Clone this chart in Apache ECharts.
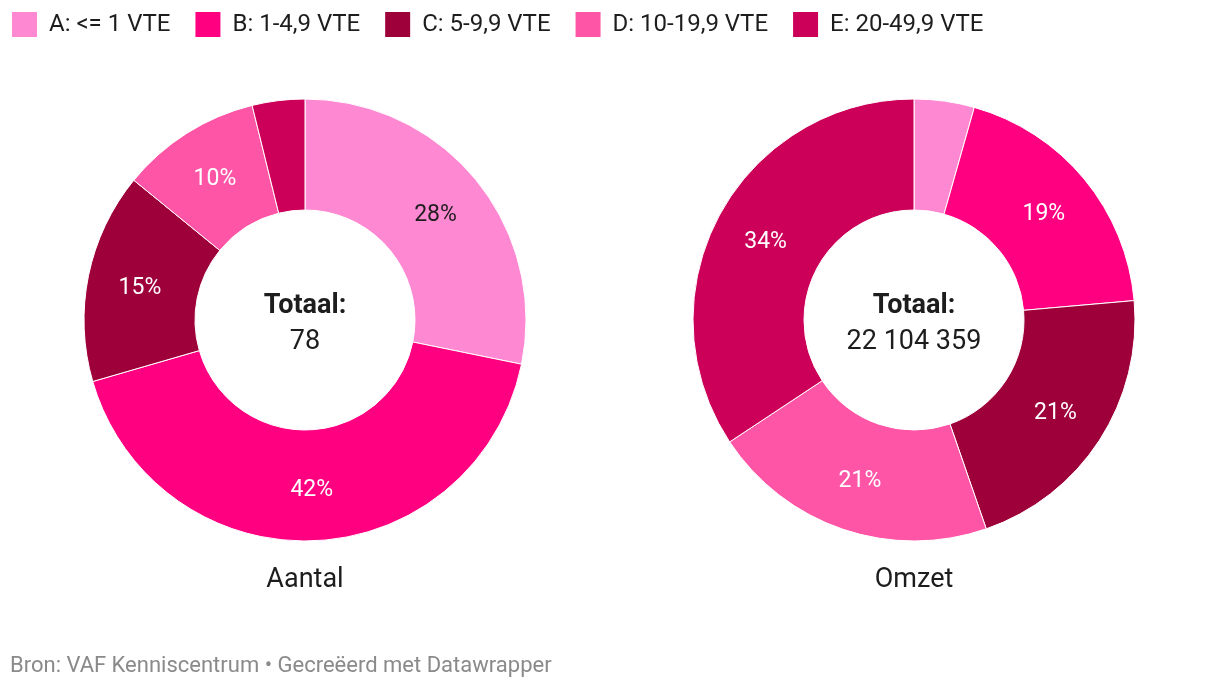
<!DOCTYPE html>
<html>
<head>
<meta charset="utf-8">
<script src="https://cdn.jsdelivr.net/npm/echarts@6/dist/echarts.min.js"></script>
<style>
  html, body { margin: 0; padding: 0; background: #fff; }
  #chart { width: 1220px; height: 688px; }
</style>
</head>
<body>
<div id="chart"></div>
<script>
// categorieën (grootteklassen)
const categories = ['A: <= 1 VTE', 'B: 1-4,9 VTE', 'C: 5-9,9 VTE', 'D: 10-19,9 VTE', 'E: 20-49,9 VTE'];
// aantal bedrijven per klasse (totaal 78)
const aantal = [22, 33, 12, 8, 3];
// omzet per klasse (totaal 22 104 359)
const omzet = [972592, 4244037, 4664020, 4641915, 7581795];

const colors = ['#ff88d3', '#ff0081', '#9e003a', '#ff55a6', '#cc0059'];
const font = 'Roboto, "Noto Sans", sans-serif';

function fmtNumber(n) {
    return String(n).replace(/\B(?=(\d{3})+(?!\d))/g, ' ');
}

function buildData(values, hidden) {
    return values.map(function (v, i) {
        return {
            name: categories[i],
            value: v,
            label: {
                show: hidden.indexOf(i) < 0,
                color: i === 0 ? '#1d1d1d' : '#ffffff'
            }
        };
    });
}

function sum(arr) {
    return arr.reduce(function (a, b) { return a + b; }, 0);
}

const chart = echarts.init(document.getElementById('chart'), null, { renderer: 'canvas' });

const pieBase = {
    type: 'pie',
    radius: [110, 221],
    startAngle: 90,
    clockwise: true,
    avoidLabelOverlap: false,
    silent: true,
    itemStyle: { borderColor: '#ffffff', borderWidth: 1 },
    label: {
        position: 'inside',
        fontFamily: font,
        fontSize: 23,
        offset: [0, 2],
        formatter: function (p) { return Math.round(p.percent) + '%'; }
    },
    labelLine: { show: false },
    emphasis: { disabled: true }
};

function centerText(x, y, text, weight) {
    return {
        type: 'text', x: x, y: y,
        style: {
            text: text, font: weight + ' 27px ' + font, fill: '#1d1d1d',
            textAlign: 'center', textVerticalAlign: 'middle'
        }
    };
}

const option = {
    animation: false,
    color: colors,
    legend: {
        left: 10,
        top: 10,
        padding: 0,
        icon: 'rect',
        itemWidth: 27,
        itemHeight: 27,
        itemGap: 23,
        selectedMode: false,
        data: categories,
        textStyle: { fontFamily: font, fontSize: 24, color: '#1d1d1d', padding: [3, 0, 0, 6] }
    },
    graphic: [
        centerText(305, 306, 'Totaal:', 'bold'),
        centerText(305, 342, fmtNumber(sum(aantal)), 'normal'),
        centerText(914, 306, 'Totaal:', 'bold'),
        centerText(914, 342, fmtNumber(sum(omzet)), 'normal'),
        centerText(305, 580, 'Aantal', 'normal'),
        centerText(914, 580, 'Omzet', 'normal'),
        { type: 'text', x: 10, y: 666, style: { text: 'Bron: VAF Kenniscentrum \u2022 Gecreëerd met Datawrapper', font: '22px ' + font, fill: '#8a8a8a', textAlign: 'left', textVerticalAlign: 'middle' } }
    ],
    series: [
        Object.assign({}, pieBase, { name: 'Aantal', center: [305, 320], data: buildData(aantal, [4]) }),
        Object.assign({}, pieBase, { name: 'Omzet', center: [914, 320], data: buildData(omzet, [0]) })
    ]
};

chart.setOption(option);
</script>
</body>
</html>
